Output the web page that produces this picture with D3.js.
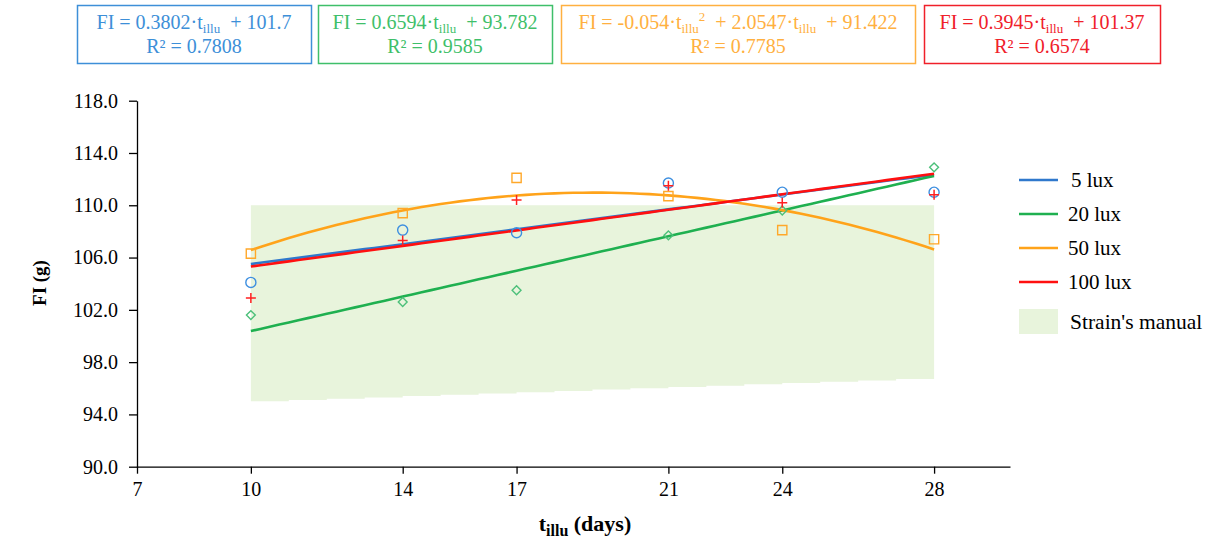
<!DOCTYPE html>
<html>
<head>
<meta charset="utf-8">
<script src="https://cdn.jsdelivr.net/npm/d3@7"></script>
<style>
  body { margin: 0; background: #fff; }
  svg text { font-family: "Liberation Serif", "Times New Roman", "DejaVu Serif", serif !important; }
</style>
</head>
<body>
<div id="chart"></div>
<script>
// data
var days = [10, 14, 17, 21, 24, 28];
var lux5 = [104.1, 108.1, 107.9, 111.7, 111.0, 111.0];
var lux20 = [101.6, 102.6, 103.5, 107.7, 109.6, 112.9];
var lux50 = [106.3, 109.4, 112.1, 110.7, 108.1, 107.4];
var lux100 = [102.9, 107.3, 110.4, 111.5, 110.2, 110.8];

// trendline coefficients [a2, a1, a0] as printed in the boxes
var fit5 = [0, 0.3802, 101.7];
var fit20 = [0, 0.6594, 93.782];
var fit50 = [-0.054, 2.0547, 91.422];
var fit100 = [0, 0.3945, 101.37];
var r2 = ["0.7808", "0.9585", "0.7785", "0.6574"];
var coefText = [["0.3802", "101.7"], ["0.6594", "93.782"], ["-0.054", "2.0547", "91.422"], ["0.3945", "101.37"]];

// strain's manual band (per day)
var manualDays = [10, 11, 12, 13, 14, 15, 16, 17, 18, 19, 20, 21, 22, 23, 24, 25, 26, 27, 28];
var manualLow = [95.0, 95.1, 95.2, 95.3, 95.4, 95.5, 95.6, 95.7, 95.8, 95.9, 96.0, 96.1, 96.2, 96.3, 96.4, 96.5, 96.6, 96.7, 96.8];
var manualHigh = 110.0;

var yTicks = [90, 94, 98, 102, 106, 110, 114, 118];
var xTicks = [7, 10, 14, 17, 21, 24, 28];
var seriesNames = ["5 lux", "20 lux", "50 lux", "100 lux"];

var lineCol = ["#2f78cc", "#1fb050", "#ffa31a", "#ff1010"];
var boxCol = ["#3d8fd8", "#3fbf6a", "#ffb040", "#f0202a"];
var markCol = ["#3d8fe0", "#4cc07a", "#ffa82a", "#ff2020"];

var W = 1227, H = 543;
var svg = d3.select("#chart").append("svg")
  .attr("width", W)
  .attr("height", H)
  .attr("font-family", "Liberation Serif, serif");

var x = d3.scaleLinear().domain([7, 30]).range([137, 1010]);
var y = d3.scaleLinear().domain([90, 118]).range([466.7, 100.7]);

// shaded band
var band = d3.area()
  .x(function(d, i) { return x(manualDays[i]); })
  .y0(function(d) { return y(d); })
  .y1(y(manualHigh))
  .curve(d3.curveStepAfter);
svg.append("path")
  .attr("d", band(manualLow))
  .attr("fill", "#e8f4dc");

// axes
var yAxis = svg.append("g")
  .attr("transform", "translate(" + x(7) + ",0)")
  .call(d3.axisLeft(y).tickValues(yTicks).tickFormat(d3.format(".1f")).tickSize(8).tickSizeOuter(0));
var xAxis = svg.append("g")
  .attr("transform", "translate(0," + y(90) + ")")
  .call(d3.axisBottom(x).tickValues(xTicks).tickSize(7).tickSizeOuter(0));

[yAxis, xAxis].forEach(function(g) {
  g.attr("font-family", "Liberation Serif, serif");
  g.selectAll("path, line").attr("stroke", "#000").attr("stroke-width", 1.3);
  g.selectAll("text").attr("fill", "#000").style("font-size", "20px");
});
yAxis.selectAll("text").attr("x", -19);
xAxis.selectAll("text").attr("y", 15);

// axis titles
svg.append("text")
  .attr("transform", "translate(46,283) rotate(-90)")
  .attr("text-anchor", "middle")
  .style("font-size", "19px")
  .style("font-weight", "bold")
  .text("FI (g)");

var xt = svg.append("text")
  .attr("x", 585)
  .attr("y", 531)
  .attr("text-anchor", "middle")
  .style("font-size", "22px")
  .style("font-weight", "bold");
xt.append("tspan").text("t");
xt.append("tspan").attr("dy", 5).style("font-size", "16px").text("illu");
xt.append("tspan").attr("dy", -5).text("\u00a0(days)");

// trendlines
var fits = [fit5, fit20, fit50, fit100];
var sample = d3.range(10, 28.01, 0.25);
var trend = d3.line()
  .x(function(d) { return x(d[0]); })
  .y(function(d) { return y(d[1]); });

fits.forEach(function(f, i) {
  var pts = sample.map(function(t) { return [t, f[0]*t*t + f[1]*t + f[2]]; });
  svg.append("path")
    .attr("d", trend(pts))
    .attr("fill", "none")
    .attr("stroke", lineCol[i])
    .attr("stroke-width", 2.6);
});

// markers
var series = [lux5, lux20, lux50, lux100];
var sym = [d3.symbolCircle, d3.symbolDiamond2, d3.symbolSquare, null];
var symSize = [80, 50, 85, 0];
series.forEach(function(vals, i) {
  var g = svg.append("g");
  vals.forEach(function(v, k) {
    var cx = x(days[k]), cy = y(v);
    if (sym[i]) {
      g.append("path")
        .attr("d", d3.symbol().type(sym[i]).size(symSize[i])())
        .attr("transform", "translate(" + cx + "," + cy + ")")
        .attr("fill", "none")
        .attr("stroke", markCol[i])
        .attr("stroke-width", 1.4);
    } else {
      g.append("path")
        .attr("d", "M" + (cx - 5) + "," + cy + "H" + (cx + 5) + "M" + cx + "," + (cy - 5) + "V" + (cy + 5))
        .attr("stroke", markCol[i])
        .attr("stroke-width", 1.5);
    }
  });
});

// equation boxes
var boxes = [[77, 311], [318, 552], [561, 915], [924, 1160]];
boxes.forEach(function(b, i) {
  svg.append("rect")
    .attr("x", b[0] + 0.5).attr("y", 5.5)
    .attr("width", b[1] - b[0]).attr("height", 58)
    .attr("fill", "none")
    .attr("stroke", boxCol[i])
    .attr("stroke-width", 1.5);
  var cx = (b[0] + b[1]) / 2;
  var t1 = svg.append("text")
    .attr("x", cx).attr("y", 29)
    .attr("text-anchor", "middle")
    .attr("fill", boxCol[i])
    .style("font-size", "20px");
  var c = coefText[i];
  if (c.length === 3) {
    t1.append("tspan").text("FI = " + c[0] + "\u00b7t");
    t1.append("tspan").attr("dy", 4).style("font-size", "13px").text("illu");
    t1.append("tspan").attr("dy", -12).style("font-size", "13px").text("2");
    t1.append("tspan").attr("dy", 8).text("\u00a0 + " + c[1] + "\u00b7t");
    t1.append("tspan").attr("dy", 4).style("font-size", "13px").text("illu");
    t1.append("tspan").attr("dy", -4).text("\u00a0 + " + c[2]);
  } else {
    t1.append("tspan").text("FI = " + c[0] + "\u00b7t");
    t1.append("tspan").attr("dy", 4).style("font-size", "13px").text("illu");
    t1.append("tspan").attr("dy", -4).text("\u00a0 + " + c[1]);
  }
  svg.append("text")
    .attr("x", cx).attr("y", 53)
    .attr("text-anchor", "middle")
    .attr("fill", boxCol[i])
    .style("font-size", "20px")
    .text("R\u00b2 = " + r2[i]);
});

// legend
var leg = svg.append("g");
seriesNames.forEach(function(n, i) {
  var ly = 180 + i * 34;
  leg.append("line")
    .attr("x1", 1019).attr("x2", 1058)
    .attr("y1", ly).attr("y2", ly)
    .attr("stroke", lineCol[i])
    .attr("stroke-width", 2.6);
  leg.append("text")
    .attr("x", i === 0 ? 1071 : 1068).attr("y", ly + 7)
    .style("font-size", "21px")
    .text(n);
});
leg.append("rect")
  .attr("x", 1019).attr("y", 309)
  .attr("width", 39).attr("height", 25)
  .attr("fill", "#e8f4dc");
leg.append("text")
  .attr("x", 1070).attr("y", 329)
  .style("font-size", "21.5px")
  .text("Strain's manual");
</script>
</body>
</html>
